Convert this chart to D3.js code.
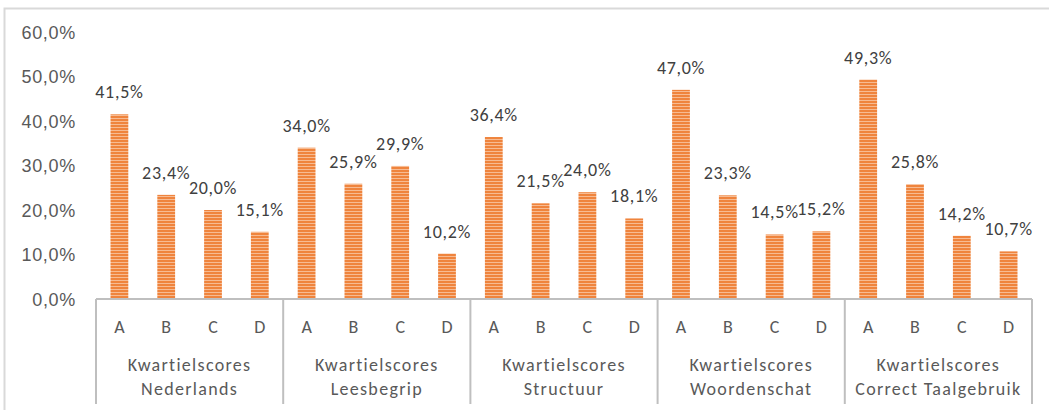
<!DOCTYPE html>
<html>
<head>
<meta charset="utf-8">
<script src="https://cdn.jsdelivr.net/npm/d3@7"></script>
<style>
	body { margin: 0; background: #fff; }
	svg { display: block; font-family: Carlito, "Liberation Sans", "Open Sans", sans-serif; }
	.tick text { fill: #595959; font-size: 18px; letter-spacing: 0.7px; }
</style>
</head>
<body>
<svg id="chart" width="1049" height="410"></svg>
<script>

// data
var groups = ['Kwartielscores\nNederlands', 'Kwartielscores\nLeesbegrip', 'Kwartielscores\nStructuur', 'Kwartielscores\nWoordenschat', 'Kwartielscores\nCorrect Taalgebruik'];
var letters = ['A', 'B', 'C', 'D'];
var values = [
	[41.5, 23.4, 20.0, 15.1],
	[34.0, 25.9, 29.9, 10.2],
	[36.4, 21.5, 24.0, 18.1],
	[47.0, 23.3, 14.5, 15.2],
	[49.3, 25.8, 14.2, 10.7]
];
var yTicks = [0, 10, 20, 30, 40, 50, 60];

var margin = {top: 32, left: 96, right: 17, bottom: 111};

var svg = d3.select('#chart'),
	width = +svg.attr('width'),
	height = +svg.attr('height'),
	plotW = width - margin.left - margin.right,
	plotH = height - margin.top - margin.bottom;

var fmt = function(v){ return v.toFixed(1).replace('.', ',') + '%'; };

// outer frame
svg.append('rect')
	.attr('x', 4.5).attr('y', 8.5)
	.attr('width', width + 10).attr('height', height + 10)
	.attr('fill', 'none')
	.attr('stroke', '#d9d9d9')
	.attr('stroke-width', 2);

// stripe pattern
var pat = svg.append('defs').append('pattern')
	.attr('id', 'stripes')
	.attr('patternUnits', 'userSpaceOnUse')
	.attr('width', 4).attr('height', 3);
pat.append('rect').attr('width', 4).attr('height', 3).attr('fill', '#f7bb92');
pat.append('rect').attr('width', 4).attr('height', 2).attr('fill', '#ef843d');

var g = svg.append('g').attr('transform', 'translate(' + margin.left + ',' + margin.top + ')');

var x0 = d3.scaleBand().domain(d3.range(groups.length)).range([0, plotW]);
var x1 = d3.scaleBand().domain(letters).range([0, x0.bandwidth()]).paddingInner(0.62).paddingOuter(0.31);
var y = d3.scaleLinear().domain([0, 60]).range([plotH, 0]);

// y axis
var yAxis = g.append('g')
	.call(d3.axisLeft(y).tickValues(yTicks).tickSize(0).tickPadding(20).tickFormat(fmt));
yAxis.select('.domain').remove();
yAxis.selectAll('.tick text').attr('dy', '0.36em');

// bars
var grp = g.selectAll('g.group').data(values)
	.enter()
	.append('g')
	.attr('class', 'group')
	.attr('transform', function(d, i){ return 'translate(' + x0(i) + ',0)'; });

grp.selectAll('rect').data(function(d){ return d; })
	.enter()
	.append('rect')
	.attr('x', function(d, i){ return x1(letters[i]); })
	.attr('y', function(d){ return y(d); })
	.attr('width', x1.bandwidth())
	.attr('height', function(d){ return y(0) - y(d); })
	.attr('fill', 'url(#stripes)');

grp.selectAll('text.val').data(function(d){ return d; })
	.enter()
	.append('text')
	.attr('class', 'val')
	.attr('x', function(d, i){ return x1(letters[i]) + x1.bandwidth() / 2; })
	.attr('y', function(d){ return y(d) - 16; })
	.attr('text-anchor', 'middle')
	.attr('fill', '#404040')
	.style('font-size', '18px')
	.style('letter-spacing', '0.7px')
	.text(fmt);

// x axis: baseline + separators
var axisColor = '#bfbfbf';
g.append('line')
	.attr('x1', 0).attr('x2', plotW)
	.attr('y1', plotH).attr('y2', plotH)
	.attr('stroke', axisColor).attr('stroke-width', 2);

g.selectAll('line.sep').data(d3.range(groups.length + 1))
	.enter()
	.append('line')
	.attr('class', 'sep')
	.attr('x1', function(d){ return d * x0.step(); })
	.attr('x2', function(d){ return d * x0.step(); })
	.attr('y1', plotH).attr('y2', plotH + 105)
	.attr('stroke', axisColor).attr('stroke-width', 2);

// category letters
grp.selectAll('text.cat').data(letters)
	.enter()
	.append('text')
	.attr('class', 'cat')
	.attr('x', function(d){ return x1(d) + x1.bandwidth() / 2; })
	.attr('y', plotH + 34)
	.attr('text-anchor', 'middle')
	.attr('fill', '#595959')
	.style('font-size', '18px')
	.text(function(d){ return d; });

// group labels
grp.append('text')
	.attr('x', x0.bandwidth() / 2)
	.attr('y', plotH + 72)
	.attr('text-anchor', 'middle')
	.attr('fill', '#595959')
	.style('font-size', '18px')
	.style('letter-spacing', '1.3px')
	.each(function(d, i){
		var lines = groups[i].split('\n');
		d3.select(this).selectAll('tspan').data(lines)
			.enter()
			.append('tspan')
			.attr('x', x0.bandwidth() / 2)
			.attr('dy', function(l, j){ return j ? 24 : 0; })
			.text(function(l){ return l; });
	});

</script>
</body>
</html>
